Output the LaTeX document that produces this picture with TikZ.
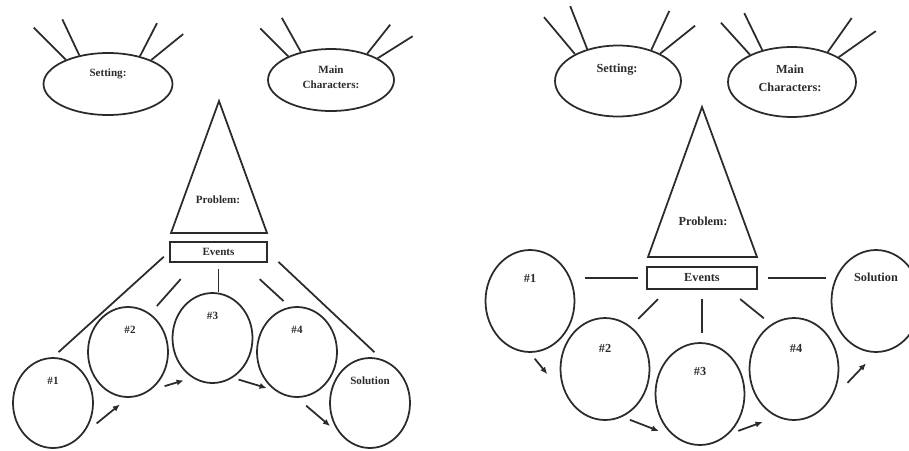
\documentclass[tikz,border=0pt]{standalone}
\usepackage{fontspec}
\setmainfont{Liberation Serif}
\usetikzlibrary{arrows.meta,positioning,shapes.geometric,calc}
\definecolor{InkGray}{HTML}{2B2B2B}
\tikzset{
  oval/.style={ellipse,draw=InkGray,line width=1pt,inner sep=0pt},
  bubble/.style={ellipse,draw=InkGray,line width=1pt,inner sep=0pt},
  evbox/.style={rectangle,draw=InkGray,line width=1.1pt,inner sep=0pt},
  lblL/.style={font=\fontsize{6.3}{8.5}\selectfont\bfseries,inner sep=0pt,
               align=center,text=InkGray},
  lblR/.style={font=\fontsize{7}{10.5}\selectfont\bfseries,inner sep=0pt,
               align=center,text=InkGray},
  ray/.style={draw=InkGray,line width=1pt},
  tie/.style={draw=InkGray,line width=1pt},
  arr/.style={-{Latex[length=4pt,width=3.5pt]},draw=InkGray,line width=1pt},
}
\begin{document}
\begin{tikzpicture}[x=0.02cm,y=-0.02cm]
  \useasboundingbox (0,0) rectangle (909,450);

  % ---- left map ----
  \node[oval,minimum width=2.58cm,minimum height=1.24cm] (setL) at (108,84) {};
  \node[lblL] (setLt) at (108,74) {Setting:};
  \node[oval,minimum width=2.52cm,minimum height=1.24cm] (chrL) at (331,80) {};
  \node[lblL] (chrLt) at (331,77) {Main\\Characters:};

  \draw[ray] (setL.150) -- ++(-32,-32);
  \draw[ray] (setL.135) -- ++(-17,-36);
  \draw[ray] (setL.41)  -- ++(17,-33);
  \draw[ray] (setL.29)  -- ++(32,-26);
  \draw[ray] (chrL.151) -- ++(-28,-28);
  \draw[ray] (chrL.137) -- ++(-19,-34);
  \draw[ray] (chrL.36)  -- ++(23,-29);
  \draw[ray] (chrL.25)  -- ++(35,-22);

  \coordinate (tipL) at (219,101);
  \coordinate (blL) at (171,233);
  \coordinate (brL) at (267,233);
  \draw[ray] (tipL) -- (brL) -- (blL) -- cycle;
  \node[lblL] (probL) at (218,200) {Problem:};

  \node[evbox,lblL,minimum width=1.94cm,minimum height=0.4cm] (evL) at (218.5,252) {Events};

  \node[bubble,minimum width=1.6cm,minimum height=1.8cm] (e1L) at (53,403) {};
  \node[bubble,minimum width=1.6cm,minimum height=1.8cm] (e2L) at (128,352) {};
  \node[bubble,minimum width=1.6cm,minimum height=1.8cm] (e3L) at (212.5,338) {};
  \node[bubble,minimum width=1.6cm,minimum height=1.8cm] (e4L) at (297,352) {};
  \node[bubble,minimum width=1.6cm,minimum height=1.8cm] (solL) at (370,403) {};
  \node[lblL] (e1Lt) at ($(e1L)+(0,-22)$) {\#1};
  \node[lblL] (e2Lt) at ($(e2L)+(2,-22)$) {\#2};
  \node[lblL] (e3Lt) at ($(e3L)+(0,-22)$) {\#3};
  \node[lblL] (e4Lt) at ($(e4L)+(0,-22)$) {\#4};
  \node[lblL] (solLt) at ($(solL)+(0,-22)$) {Solution};

  \draw[tie,shorten <=0.14cm,shorten >=0.15cm] (evL.west) -- (e1L.north);
  \draw[tie,shorten <=0.43cm,shorten >=0.2cm] (evL.205) -- (e2L.60);
  \draw[tie,shorten <=0.12cm] (evL.south) -- (evL.south |- e3L.north);
  \draw[tie,shorten <=0.48cm,shorten >=0.17cm] (evL.335) -- (e4L.99);
  \draw[tie,shorten <=0.29cm,shorten >=0.2cm] (evL.east) -- (solL.75);

  \draw[arr,shorten <=0.38cm,shorten >=0.21cm] (e1L.south east) -- (e2L.south);
  \draw[arr,shorten <=0.3cm,shorten >=0.18cm] (e2L.-60) -- (e3L.243);
  \draw[arr,shorten <=0.12cm,shorten >=0.17cm] (e3L.-63) -- (e4L.240);
  \draw[arr,shorten <=0.24cm,shorten >=0.29cm] (e4L.south) -- (solL.south west);

  % ---- right map ----
  \node[oval,minimum width=2.52cm,minimum height=1.42cm] (setR) at (618,81) {};
  \node[lblR] (setRt) at (617,70) {Setting:};
  \node[oval,minimum width=2.56cm,minimum height=1.4cm] (chrR) at (792,82) {};
  \node[lblR] (chrRt) at (790,78.5) {Main\\Characters:};

  \draw[ray] (setR.148) -- ++(-31,-37);
  \draw[ray] (setR.134) -- ++(-17,-43);
  \draw[ray] (setR.43)  -- ++(18,-39);
  \draw[ray] (setR.33)  -- ++(35,-28);
  \draw[ray] (chrR.147) -- ++(-29,-32);
  \draw[ray] (chrR.133) -- ++(-18,-37);
  \draw[ray] (chrR.40)  -- ++(24,-34);
  \draw[ray] (chrR.28)  -- ++(37,-26);

  \coordinate (tipR) at (702,107);
  \coordinate (blR) at (648,257);
  \coordinate (brR) at (757,257);
  \draw[ray] (tipR) -- (brR) -- (blR) -- cycle;
  \node[lblR] (probR) at (703,221) {Problem:};

  \node[evbox,lblR,minimum width=2.2cm,minimum height=0.44cm] (evR) at (702,278) {Events};

  \node[bubble,minimum width=1.78cm,minimum height=2.04cm] (e1R) at (530,301) {};
  \node[bubble,minimum width=1.78cm,minimum height=2.04cm] (e2R) at (605,369) {};
  \node[bubble,minimum width=1.78cm,minimum height=2.04cm] (e3R) at (700,394) {};
  \node[bubble,minimum width=1.78cm,minimum height=2.04cm] (e4R) at (794,369) {};
  \node[bubble,minimum width=1.78cm,minimum height=2.04cm] (solR) at (876,301) {};
  \node[lblR] (e1Rt) at ($(e1R)+(0,-23)$) {\#1};
  \node[lblR] (e2Rt) at ($(e2R)+(0,-21)$) {\#2};
  \node[lblR] (e3Rt) at ($(e3R)+(0,-23)$) {\#3};
  \node[lblR] (e4Rt) at ($(e4R)+(2,-21)$) {\#4};
  \node[lblR] (solRt) at ($(solR)+(0,-24)$) {Solution};

  \draw[tie,shorten <=0.16cm,shorten >=0.19cm] (evR.west) -- (evR.west -| e1R.east);
  \draw[tie,shorten <=0.2cm,shorten >=0.09cm] (evR.east) -- (evR.east -| solR.west);
  \draw[tie,shorten <=0.26cm,shorten >=0.21cm] (evR.199) -- (e2R.59);
  \draw[tie,shorten <=0.18cm,shorten >=0.18cm] (evR.south) -- (evR.south |- e3R.north);
  \draw[tie,shorten <=0.29cm,shorten >=0.19cm] (evR.336) -- (e4R.117);

  \draw[arr,shorten <=0.15cm,shorten >=0.75cm] (e1R.south) -- (e2R.225);
  \draw[arr,shorten <=0.16cm,shorten >=0.35cm] (e2R.290) -- (e3R.240);
  \draw[arr,shorten <=0.21cm,shorten >=0.3cm] (e3R.-55) -- (e4R.250);
  \draw[arr,shorten <=0.56cm,shorten >=0.29cm] (e4R.-45) -- (solR.south);

\end{tikzpicture}
\end{document}
